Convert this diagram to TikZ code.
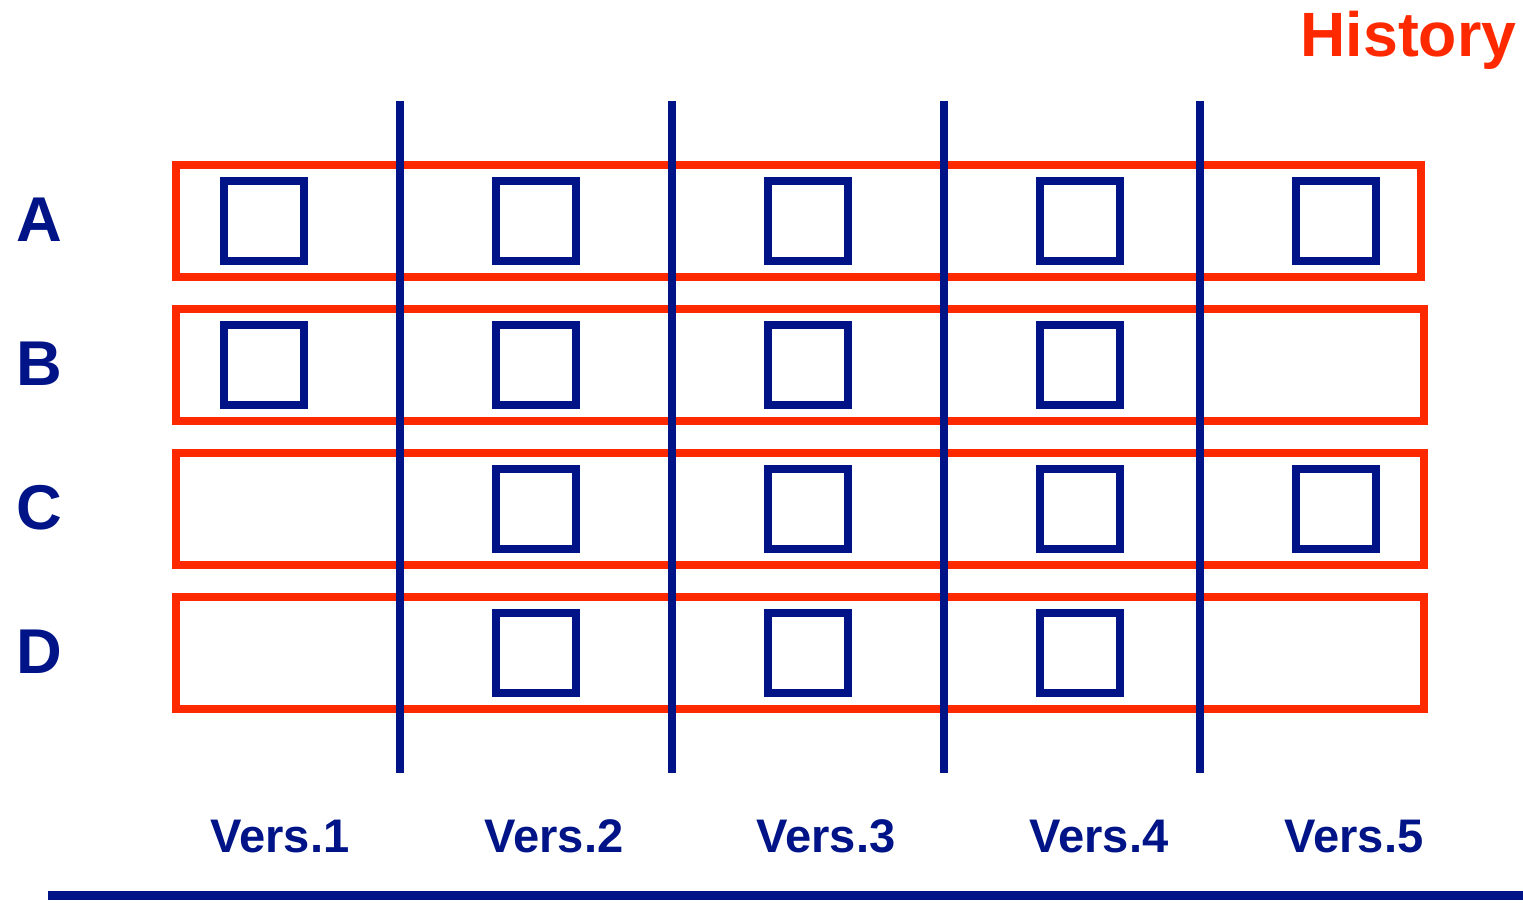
\documentclass[tikz,border=0pt]{standalone}
\usepackage{fontspec}
\setmainfont{Liberation Sans}
\definecolor{vnavy}{RGB}{0,20,136}
\definecolor{vred}{RGB}{255,41,0}
\tikzset{
    rowbox/.style={draw=vred, line width=2.3pt, inner sep=0pt, minimum height=1.12cm},
    cell/.style={draw=vnavy, line width=2.3pt, inner sep=0pt, minimum size=0.8cm},
    verline/.style={draw=vnavy, line width=2.3pt},
    lbl/.style={text=vnavy, font=\bfseries\fontsize{13.4}{16}\selectfont, inner sep=0pt, anchor=base},
    rowlbl/.style={text=vnavy, font=\bfseries\fontsize{18}{20}\selectfont, inner sep=0pt}
}
\begin{document}
\begin{tikzpicture}[x=0.01cm, y=-0.01cm]
        \useasboundingbox (0,0) rectangle (1523,923);

        % Title
        \node[text=vred, font=\bfseries\fontsize{17.8}{20}\selectfont, inner sep=0pt, anchor=base east] (title) at (1517,56) {History};

        % Rows of the table
        \node[rowbox, minimum width=12.45cm] (rowA) at (798.5,221) {};
        \foreach \r/\y in {B/365, C/509, D/653}
            \node[rowbox, minimum width=12.48cm] (row\r) at (800,\y) {};

        % Row labels
        \foreach \r/\y in {A/220, B/364, C/508, D/652}
            \node[rowlbl] (lab\r) at (39,\y) {\r};

        % Version cells in each row
        \foreach \x/\v in {264/1, 536/2, 808/3, 1080/4, 1336/5}
            \node[cell] (A\v) at (\x,221) {};
        \foreach \x/\v in {264/1, 536/2, 808/3, 1080/4}
            \node[cell] (B\v) at (\x,365) {};
        \foreach \x/\v in {536/2, 808/3, 1080/4, 1336/5}
            \node[cell] (C\v) at (\x,509) {};
        \foreach \x/\v in {536/2, 808/3, 1080/4}
            \node[cell] (D\v) at (\x,653) {};

        % Separators between versions
        \foreach \x/\i in {400/1, 672/2, 944/3, 1200/4} {
            \coordinate (top\i) at (\x,101);
            \coordinate (bot\i) at (\x,773);
            \draw[verline] (top\i) -- (bot\i);
        }

        % Version labels
        \foreach \x/\v in {280/1, 554/2, 826/3, 1099/4, 1354/5}
            \node[lbl] (vers\v) at (\x,852) {Vers.\v};

        % Time line
        \coordinate (tl) at (48,895.5);
        \coordinate (tr) at (1523,895.5);
        \draw[vnavy, line width=2.6pt] (tl) -- (tr);
    \end{tikzpicture}
\end{document}
